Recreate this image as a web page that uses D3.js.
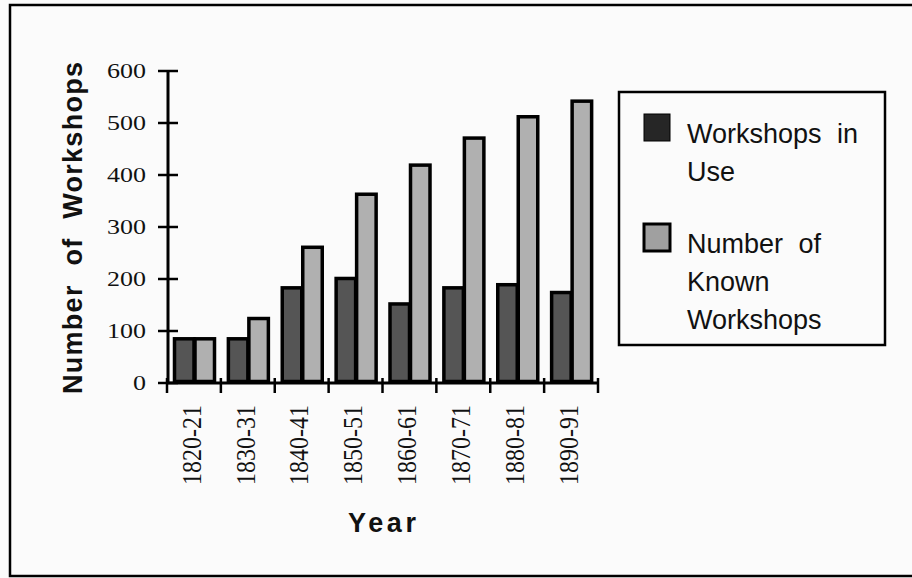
<!DOCTYPE html>
<html><head><meta charset="utf-8">
<script src="https://cdn.jsdelivr.net/npm/d3@7"></script>
<style>html,body{margin:0;padding:0;background:#fbfbfb;}svg{display:block;}</style>
</head><body>
<svg id="c" width="912" height="578"></svg>
<script>
const categories = ["1820-21","1830-31","1840-41","1850-51","1860-61","1870-71","1880-81","1890-91"];
const inUse = [85, 85, 183, 201, 152, 183, 189, 174];
const known = [85, 124, 261, 363, 419, 471, 512, 542];
const seriesNames = ["Workshops in Use","Number of Known Workshops"];
const yTicks = [0,100,200,300,400,500,600];

const svg = d3.select("#c");
svg.append("rect").attr("width",912).attr("height",578).attr("fill","#fbfbfb");
// outer frame
svg.append("rect").attr("x",10).attr("y",5).attr("width",1000).attr("height",571)
  .attr("fill","none").attr("stroke","#000").attr("stroke-width",2.5);

const x0 = d3.scaleBand().domain(categories).range([167,598]).padding(0);
const x1 = d3.scaleBand().domain(seriesNames).range([6,47]).padding(0);
const y = d3.scaleLinear().domain([0,600]).range([383,71]);
const fills = {"Workshops in Use":"#555555","Number of Known Workshops":"#b0b0b0"};

const data = categories.map((c,i)=>({cat:c, vals:[{s:seriesNames[0],v:inUse[i]},{s:seriesNames[1],v:known[i]}]}));

const g = svg.append("g");
g.selectAll("g.grp").data(data).join("g").attr("class","grp")
  .attr("transform",d=>`translate(${x0(d.cat)},0)`)
  .selectAll("rect").data(d=>d.vals).join("rect")
  .attr("x",d=>x1(d.s)+1.5).attr("width",x1.bandwidth()-1)
  .attr("y",d=>y(d.v)).attr("height",d=>y(0)-y(d.v)-1.5)
  .attr("fill",d=>fills[d.s]).attr("stroke","#000").attr("stroke-width",3.5);

// y axis
const ax = svg.append("g");
ax.append("line").attr("x1",168).attr("x2",168).attr("y1",y(600)).attr("y2",y(0))
  .attr("stroke","#000").attr("stroke-width",3);
ax.selectAll("line.t").data(yTicks).join("line").attr("class","t")
  .attr("x1",158).attr("x2",178).attr("y1",d=>y(d)).attr("y2",d=>y(d))
  .attr("stroke","#000").attr("stroke-width",2.5);
ax.selectAll("text").data(yTicks).join("text")
  .attr("x",146).attr("y",d=>y(d)+7)
  .attr("text-anchor","end")
  .attr("font-family","'Liberation Serif','Times New Roman',serif")
  .attr("font-size",22)
  .attr("textLength",d=>String(d).length*13)
  .attr("lengthAdjust","spacingAndGlyphs")
  .attr("fill","#111")
  .text(d=>d);

// x axis
const bounds = categories.map(c=>x0(c)).concat([x0(categories[categories.length-1])+x0.bandwidth()]);
svg.append("line").attr("x1",167).attr("x2",598).attr("y1",y(0)).attr("y2",y(0))
  .attr("stroke","#000").attr("stroke-width",3);
svg.selectAll("line.xt").data(bounds).join("line").attr("class","xt")
  .attr("x1",d=>d).attr("x2",d=>d).attr("y1",y(0)-5).attr("y2",y(0)+10)
  .attr("stroke","#000").attr("stroke-width",2.5);
svg.selectAll("text.xl").data(categories).join("text").attr("class","xl")
  .attr("transform",d=>`translate(${x0(d)+x0.bandwidth()/2-3},405) rotate(-90)`)
  .attr("text-anchor","end").attr("dy","0.36em")
  .attr("font-family","'Liberation Serif','Times New Roman',serif")
  .attr("font-size",27)
  .attr("textLength",80).attr("lengthAdjust","spacingAndGlyphs")
  .attr("fill","#111")
  .text(d=>d);

// axis titles
svg.append("text").attr("x",382).attr("y",532).attr("text-anchor","middle")
  .attr("font-family","'Liberation Sans',Arial,sans-serif").attr("font-weight","bold")
  .attr("font-size",27).attr("textLength",68).attr("lengthAdjust","spacing")
  .attr("fill","#111").text("Year");
svg.append("text").attr("transform","translate(82,228) rotate(-90)").attr("text-anchor","middle")
  .attr("font-family","'Liberation Sans',Arial,sans-serif").attr("font-weight","bold")
  .attr("font-size",27).attr("word-spacing",10).attr("textLength",332).attr("lengthAdjust","spacing")
  .attr("fill","#111").text("Number of Workshops");

// legend
const lg = svg.append("g");
lg.append("rect").attr("x",619).attr("y",92).attr("width",266).attr("height",253)
  .attr("fill","#fbfbfb").attr("stroke","#000").attr("stroke-width",2.5);
const legendLines = [["Workshops in","Use"],["Number of","Known","Workshops"]];
const swY = [114, 224];
const baseY = [143, 253];
seriesNames.forEach((s,i)=>{
  lg.append("rect").attr("x",644).attr("y",swY[i]).attr("width",26).attr("height",27)
    .attr("fill",i===0?"#262626":"#a0a0a0").attr("stroke","#000").attr("stroke-width",i===0?1:3);
  legendLines[i].forEach((t,j)=>{
    lg.append("text").attr("x",687).attr("y",baseY[i]+j*38)
      .attr("font-family","'Liberation Sans',Arial,sans-serif")
      .attr("font-size",27).attr("word-spacing",8).attr("fill","#111").text(t);
  });
});
</script>
</body></html>
